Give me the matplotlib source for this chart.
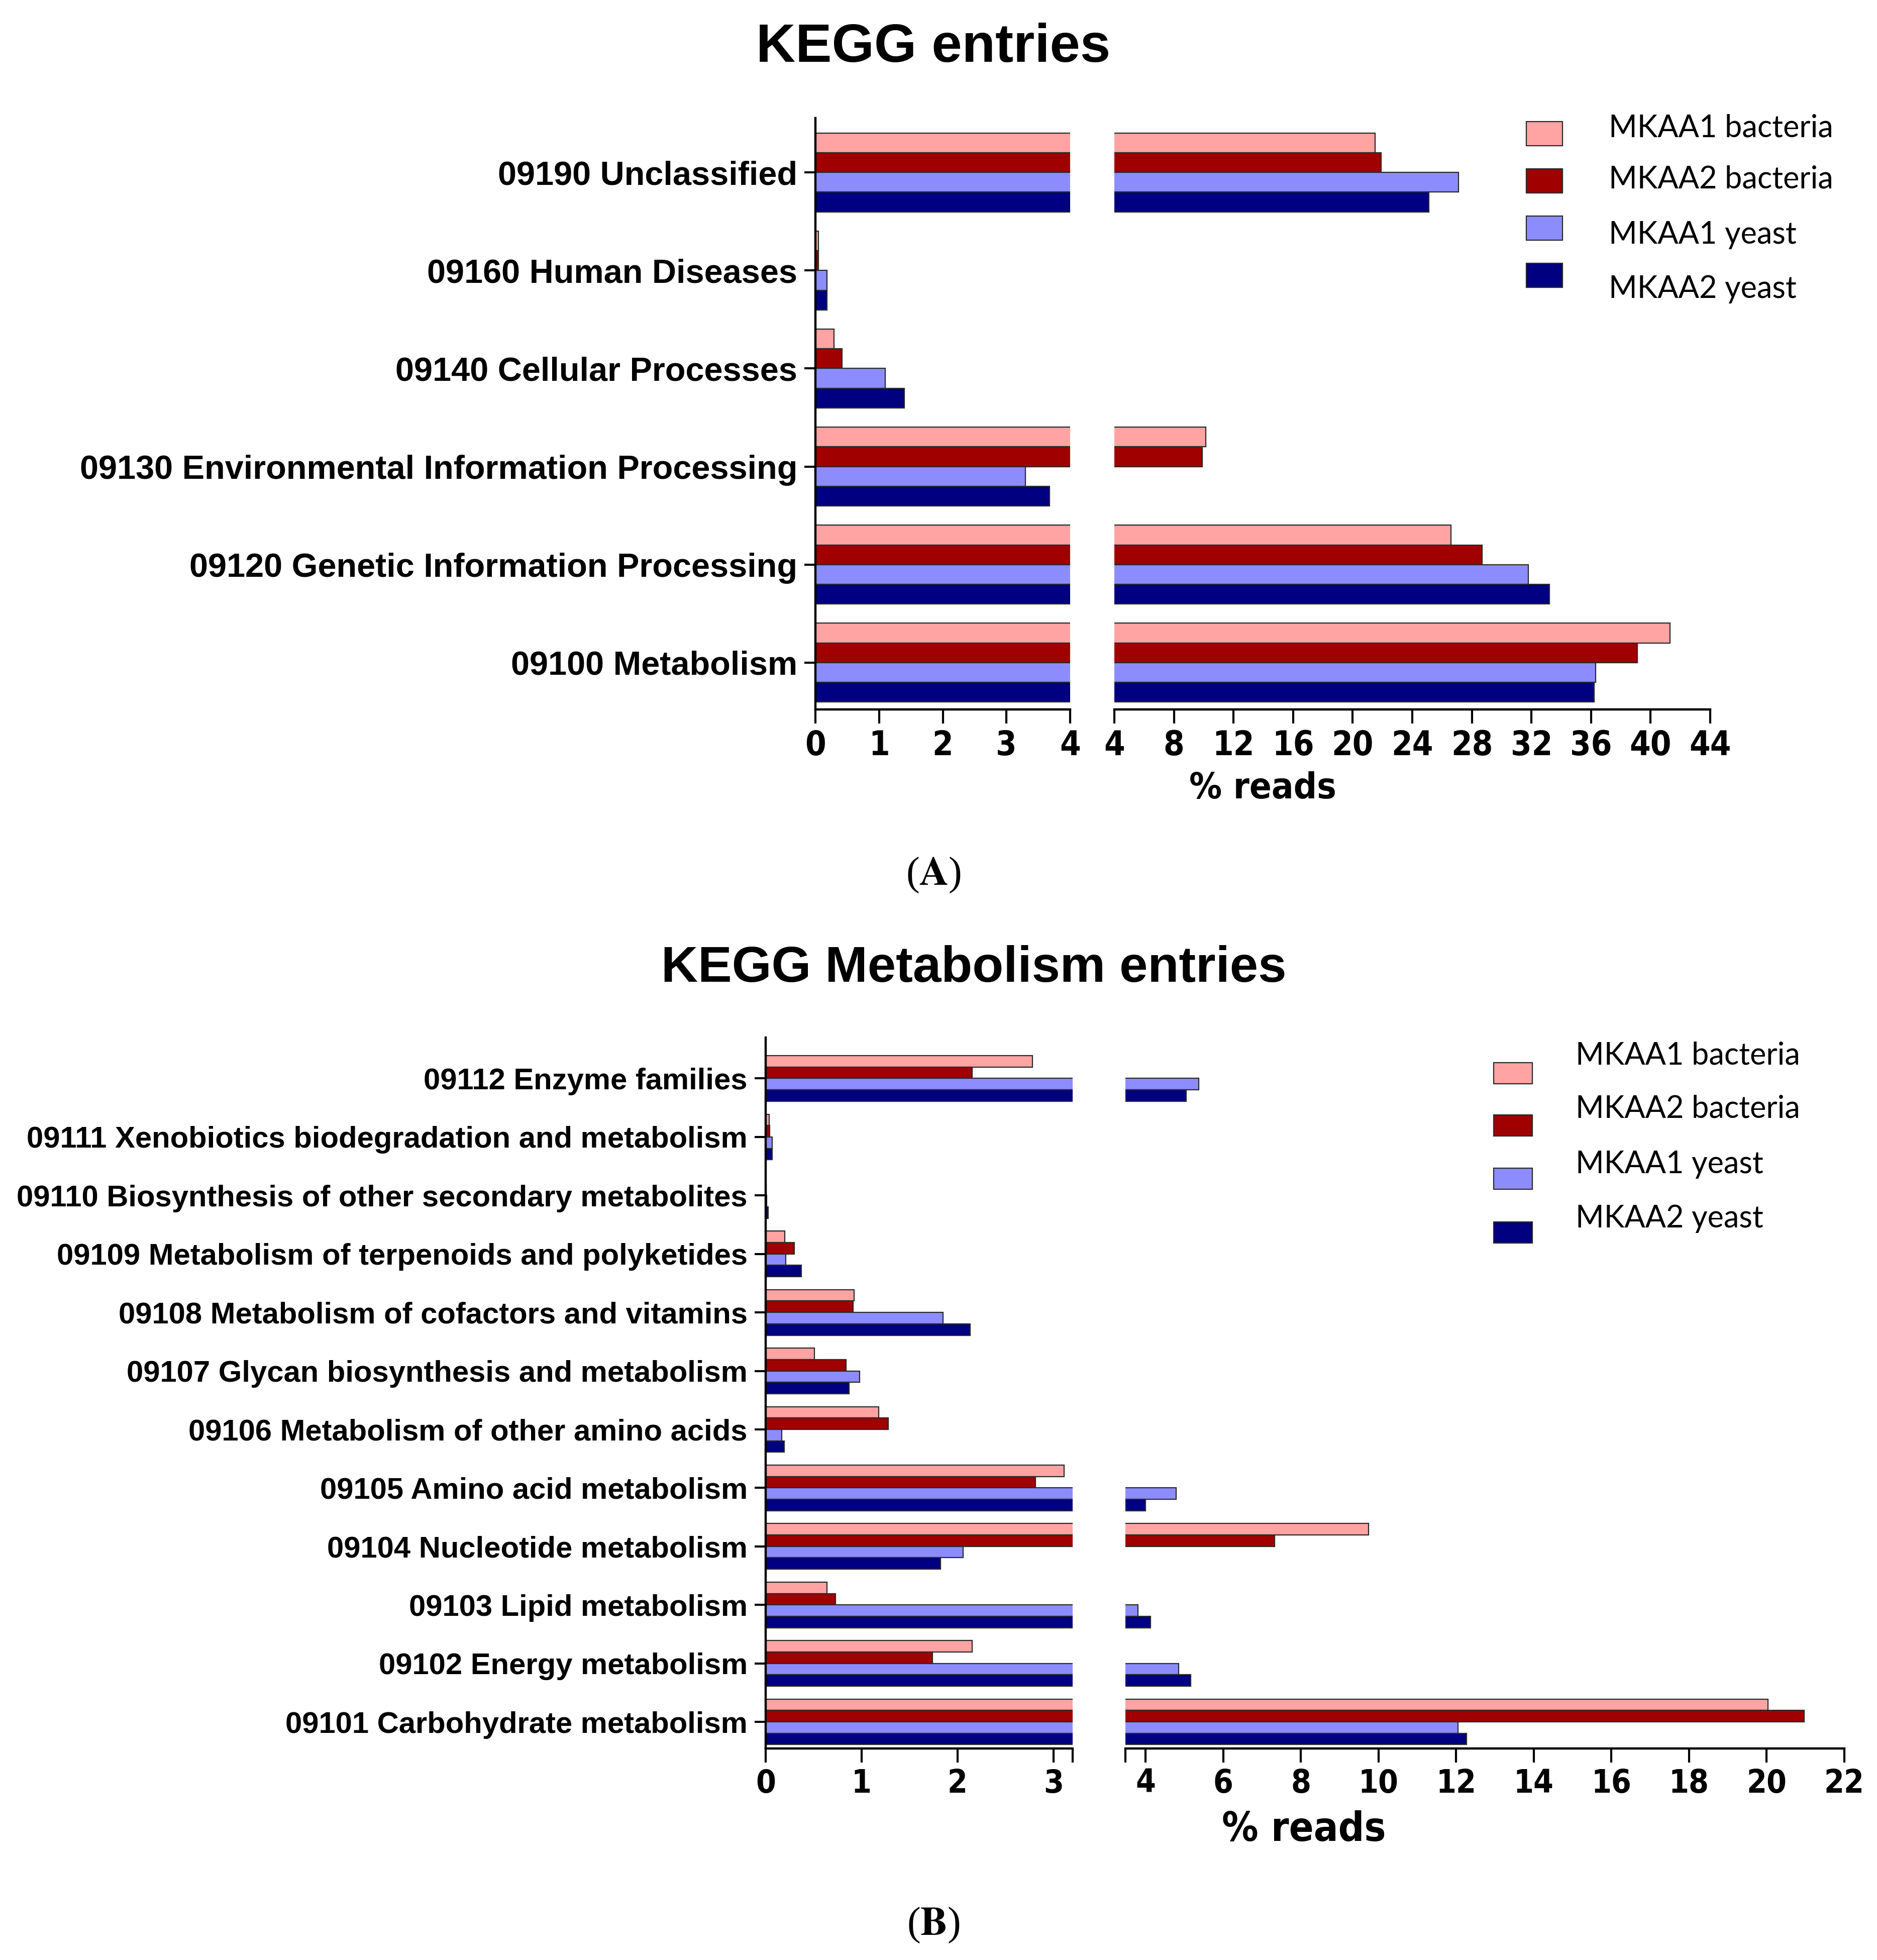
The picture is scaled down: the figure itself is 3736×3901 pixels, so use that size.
import matplotlib
matplotlib.use("Agg")
import matplotlib.pyplot as plt
from matplotlib import font_manager
from matplotlib.font_manager import FontProperties
from matplotlib.patches import Rectangle
import numpy as np

# ---- data ----
series = ["MKAA1 bacteria", "MKAA2 bacteria", "MKAA1 yeast", "MKAA2 yeast"]
colors = ["#FFA3A3", "#A00000", "#8C8CFF", "#000080"]

cats_a = ["09190 Unclassified", "09160 Human Diseases", "09140 Cellular Processes",
          "09130 Environmental Information Processing",
          "09120 Genetic Information Processing", "09100 Metabolism"]
mkaa1_bact_a = [21.5, 0.05, 0.29, 10.15, 26.6, 41.3]
mkaa2_bact_a = [21.9, 0.05, 0.42, 9.9, 28.7, 39.1]
mkaa1_yeast_a = [27.1, 0.18, 1.10, 3.30, 31.8, 36.3]
mkaa2_yeast_a = [25.1, 0.18, 1.40, 3.68, 33.2, 36.2]

cats_b = ["09112 Enzyme families", "09111 Xenobiotics biodegradation and metabolism",
          "09110 Biosynthesis of other secondary metabolites",
          "09109 Metabolism of terpenoids and polyketides",
          "09108 Metabolism of cofactors and vitamins",
          "09107 Glycan biosynthesis and metabolism",
          "09106 Metabolism of other amino acids", "09105 Amino acid metabolism",
          "09104 Nucleotide metabolism", "09103 Lipid metabolism",
          "09102 Energy metabolism", "09101 Carbohydrate metabolism"]
mkaa1_bact_b = [2.78, 0.035, 0.0, 0.20, 0.92, 0.51, 1.18, 3.11, 9.75, 0.64, 2.15, 20.03]
mkaa2_bact_b = [2.15, 0.04, 0.005, 0.30, 0.91, 0.84, 1.28, 2.81, 7.33, 0.73, 1.74, 20.97]
mkaa1_yeast_b = [5.37, 0.07, 0.01, 0.21, 1.85, 0.98, 0.17, 4.79, 2.06, 3.80, 4.85, 12.05]
mkaa2_yeast_b = [5.05, 0.07, 0.025, 0.37, 2.13, 0.87, 0.195, 4.00, 1.82, 4.13, 5.16, 12.27]

# ---- fonts ----
SANS = "Liberation Sans"
LEG = "Lato"


def condensed_font():
    # look for any installed condensed / narrow bold sans face
    for f in font_manager.fontManager.ttflist:
        n = f.fname.lower()
        if ("narrow" in n or "condensed" in n) and "sans" in n and "mono" not in n \
                and "bold" in n and "oblique" not in n and "italic" not in n:
            return FontProperties(fname=f.fname)
    return FontProperties(family=SANS, weight="bold")


NARROW = condensed_font()
plt.rcParams["mathtext.fontset"] = "stix"

W, H = 3737, 3901
fig = plt.figure(figsize=(W / 100, H / 100), dpi=100)


def fx(x):
    return x / W


def fy(y):
    return 1 - y / H


def panel(cats, vals, left_px, right_px, top, bottom, ylim, xl_left, xl_right,
          ticks_left, ticks_right, ends, ylab_size, xtick_size, xlab_size,
          xlab_pos, bar_h):
    n = len(cats)
    y = np.arange(n)[::-1]
    axl = fig.add_axes([fx(left_px[0]), fy(bottom), fx(left_px[1] - left_px[0]),
                        (bottom - top) / H])
    axr = fig.add_axes([fx(right_px[0]), fy(bottom), fx(right_px[1] - right_px[0]),
                        (bottom - top) / H])
    offs = [1.5, 0.5, -0.5, -1.5]
    for ax in (axl, axr):
        for v, c, o in zip(vals, colors, offs):
            ax.barh(y + o * bar_h, v, height=bar_h, color=c, edgecolor="#2a2a2a",
                    linewidth=1.6)
        ax.set_ylim(*ylim)
        for s in ("top", "right"):
            ax.spines[s].set_visible(False)
        ax.spines["bottom"].set_linewidth(3.2)
        ax.tick_params(axis="x", length=20, width=3, pad=8)
    axl.set_xlim(*xl_left)
    axr.set_xlim(*xl_right)
    axl.set_xticks(ticks_left)
    axr.set_xticks(ticks_right)
    if ends:
        axl.set_xticks([xl_left[1]], minor=True)
        axr.set_xticks([xl_right[0]], minor=True)
        for ax in (axl, axr):
            ax.tick_params(axis="x", which="minor", length=20, width=3)
    for ax in (axl, axr):
        for lab in ax.get_xticklabels():
            lab.set_fontproperties(NARROW)
            lab.set_fontsize(xtick_size)
    axl.spines["left"].set_linewidth(3.2)
    axl.set_yticks(y)
    axl.set_yticklabels(cats, fontsize=ylab_size, fontweight="bold", family=SANS)
    axl.tick_params(axis="y", length=16, width=3, pad=10)
    axr.spines["left"].set_visible(False)
    axr.set_yticks([])
    t = fig.text(fx(xlab_pos[0]), fy(xlab_pos[1]), "% reads", ha="center", va="center")
    t.set_fontproperties(NARROW)
    t.set_fontsize(xlab_size)


# Panel A
panel(cats_a, [mkaa1_bact_a, mkaa2_bact_a, mkaa1_yeast_a, mkaa2_yeast_a],
      (1623, 2130), (2218, 3404), 235, 1412, (-0.477, 5.554), (0, 4), (4, 44),
      [0, 1, 2, 3, 4], list(range(4, 45, 4)), False, 48, 48, 52, (2513, 1570), 0.201)

# Panel B
panel(cats_b, [mkaa1_bact_b, mkaa2_bact_b, mkaa1_yeast_b, mkaa2_yeast_b],
      (1524, 2135), (2240, 3671), 2065, 3480, (-0.455, 11.70), (0, 3.2), (3.48, 22),
      [0, 1, 2, 3], list(range(4, 23, 2)), True, 43, 46, 58, (2595, 3642), 0.195)

# titles
fig.text(fx(1858), fy(95), "KEGG entries", ha="center", va="center",
         fontsize=78, fontweight="bold", family=SANS)
fig.text(fx(1938), fy(1928), "KEGG Metabolism entries", ha="center", va="center",
         fontsize=73, fontweight="bold", family=SANS)


# legends
def legend(sq_x, sq_w, sq_h, sq_y, tx, ty, size):
    for c, name, yc, yt in zip(colors, series, sq_y, ty):
        fig.add_artist(Rectangle((fx(sq_x), fy(yc + sq_h / 2)), sq_w / W, sq_h / H,
                                 transform=fig.transFigure, facecolor=c,
                                 edgecolor="#2a2a2a", linewidth=1.6))
        fig.text(fx(tx), fy(yt), name, ha="left", va="center", fontsize=size,
                 family=LEG)


legend(3038, 72, 48, [266, 360, 454, 548], 3202, [255, 357, 468, 575], 44)
legend(2973, 77, 42, [2136, 2240, 2346, 2453], 3136, [2101, 2207, 2318, 2425], 44)

# panel letters
fig.text(fx(1858), fy(1742), r"($\mathbf{A}$)", ha="center", va="center",
         fontsize=58, family="Liberation Serif")
fig.text(fx(1858), fy(3832), r"($\mathbf{B}$)", ha="center", va="center",
         fontsize=58, family="Liberation Serif")

fig.savefig("out.png", dpi=100, facecolor="white")
